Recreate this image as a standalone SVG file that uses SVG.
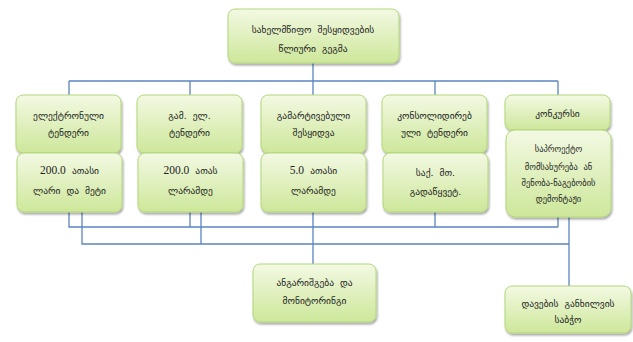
<svg xmlns="http://www.w3.org/2000/svg" width="633" height="342" viewBox="0 0 633 342">
<defs>
<linearGradient id="g" x1="0" y1="0" x2="0" y2="1">
<stop offset="0" stop-color="#f3f9e3"/>
<stop offset="1" stop-color="#cde79a"/>
</linearGradient>
<filter id="sh" x="-10%" y="-10%" width="125%" height="135%">
<feGaussianBlur in="SourceAlpha" stdDeviation="1.2"/>
<feOffset dx="1" dy="2" result="b"/>
<feComponentTransfer><feFuncA type="linear" slope="0.35"/></feComponentTransfer>
<feMerge><feMergeNode/><feMergeNode in="SourceGraphic"/></feMerge>
</filter>
</defs>
<style>
.box{fill:url(#g);stroke:#b3d77a;stroke-width:1;filter:url(#sh)}
.t{font-family:"DejaVu Sans",sans-serif;font-size:9.5px;fill:#222;text-anchor:middle;word-spacing:3px}
.n{font-family:"Liberation Serif",serif;font-size:11.5px}
.ln{fill:none;stroke:#5a85c0;stroke-width:1.3}
</style>
<rect width="633" height="342" fill="#fff"/>
<g id="connectors">
<path class="ln" d="M313 63V81M69 81H558M69 81V95M190 81V95M313 81V95M435 81V95M558 81V95"/>
<path class="ln" d="M69 212V227H558M190 212V227M435 212V227M558 217V227"/>
<path class="ln" d="M82 212V244H569M201 212V244M569 217V286"/>
<path class="ln" d="M313 212V264"/>
</g>
<g id="top">
<rect class="box" x="228" y="9" width="171" height="54" rx="7"/>
<text class="t" x="313" y="33">სახელმწიფო შესყიდვების</text>
<text class="t" x="313" y="52">წლიური გეგმა</text>
</g>
<g id="n1">
<rect class="box" x="16" y="95" width="105" height="58" rx="7"/>
<text class="t" x="68.5" y="119">ელექტრონული</text>
<text class="t" x="68.5" y="136">ტენდერი</text>
</g>
<g id="n1b">
<rect class="box" x="17" y="153" width="105" height="59" rx="7"/>
<text class="t" x="69.5" y="174"><tspan class="n">200.0</tspan> ათასი</text>
<text class="t" x="69.5" y="194">ლარი და მეტი</text>
</g>
<g id="n2">
<rect class="box" x="137" y="95" width="105" height="58" rx="7"/>
<text class="t" x="189.5" y="119">გამ. ელ.</text>
<text class="t" x="189.5" y="136">ტენდერი</text>
</g>
<g id="n2b">
<rect class="box" x="138" y="153" width="105" height="59" rx="7"/>
<text class="t" x="190.5" y="174"><tspan class="n">200.0</tspan> ათას</text>
<text class="t" x="190.5" y="194">ლარამდე</text>
</g>
<g id="n3">
<rect class="box" x="261" y="95" width="105" height="58" rx="7"/>
<text class="t" x="313.5" y="119">გამარტივებული</text>
<text class="t" x="313.5" y="136">შესყიდვა</text>
</g>
<g id="n3b">
<rect class="box" x="261" y="153" width="105" height="59" rx="7"/>
<text class="t" x="313.5" y="174"><tspan class="n">5.0</tspan> ათასი</text>
<text class="t" x="313.5" y="194">ლარამდე</text>
</g>
<g id="n4">
<rect class="box" x="382" y="95" width="105" height="58" rx="7"/>
<text class="t" x="434.5" y="119">კონსოლიდირებ</text>
<text class="t" x="434.5" y="136">ული ტენდერი</text>
</g>
<g id="n4b">
<rect class="box" x="383" y="153" width="105" height="59" rx="7"/>
<text class="t" x="435.5" y="176">საქ. მთ.</text>
<text class="t" x="435.5" y="195">გადაწყვეტ.</text>
</g>
<g id="n5">
<rect class="box" x="505" y="95" width="105" height="35" rx="7"/>
<text class="t" x="557.5" y="117">კონკურსი</text>
</g>
<g id="n5b">
<rect class="box" x="506" y="130" width="105" height="87" rx="9"/>
<text class="t" x="558.5" y="152" style="font-size:8.5px">საპროექტო</text>
<text class="t" x="558.5" y="170" style="font-size:8.5px">მომსახურება ან</text>
<text class="t" x="558.5" y="186" style="font-size:8.5px">შენობა-ნაგებობის</text>
<text class="t" x="558.5" y="202" style="font-size:8.5px">დემონტაჟი</text>
</g>
<g id="monitoring">
<rect class="box" x="253" y="264" width="123" height="58" rx="7"/>
<text class="t" x="314.5" y="286">ანგარიშგება და</text>
<text class="t" x="314.5" y="304">მონიტორინგი</text>
</g>
<g id="dispute">
<rect class="box" x="505" y="286" width="126" height="47" rx="7"/>
<text class="t" x="568" y="307">დავების განხილვის</text>
<text class="t" x="568" y="323">საბჭო</text>
</g>
</svg>
